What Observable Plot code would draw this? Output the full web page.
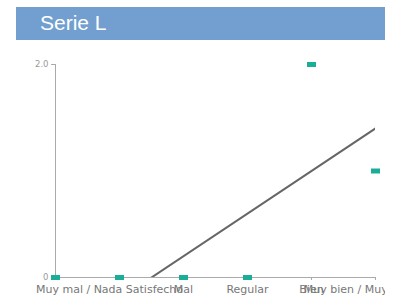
<!DOCTYPE html>
<html>
<head>
<meta charset="utf-8">
<script src="https://cdn.jsdelivr.net/npm/d3@7"></script>
<script src="https://cdn.jsdelivr.net/npm/@observablehq/plot@0.6"></script>
<style>
  html, body { margin: 0; padding: 0; background: #fff; }
  #title { margin: 7px 0 0 16px; width: 369px; height: 33px; background: #729fcf;
           color: #fff; font: 21px "Liberation Sans", Arial, sans-serif; line-height: 32px;
           padding-left: 24px; box-sizing: border-box; }
  #chart svg { display: block; overflow: hidden; }
</style>
</head>
<body>
<div id="title">Serie L</div>
<div id="chart"></div>
<script>
const categories = ["", "Muy mal / Nada Satisfecho", "Mal", "Regular", "Bien", "Muy bien / Muy satisfecho"];
const values = [0, 0, 0, 0, 2, 1];
const yTicks = [0, 2];

const data = categories.map((c, i) => ({i, c, v: values[i]}));
const trendData = data.filter(d => d.c !== "");

const marker = { draw(ctx) { ctx.rect(-4.5, -2.5, 9, 5); } };
const xIdx = d3.range(categories.length);

const chart = Plot.plot({
  width: 385,
  height: 257,
  marginLeft: 55,
  marginRight: 10,
  marginTop: 24,
  marginBottom: 20,
  style: { fontFamily: "DejaVu Sans, sans-serif", fontSize: "11px", color: "#777", background: "#fff" },
  x: { domain: [0, categories.length - 1] },
  y: { domain: [0, 2] },
  marks: [
    Plot.frame({ anchor: "left", stroke: "#aaa" }),
    Plot.frame({ anchor: "bottom", stroke: "#aaa" }),
    Plot.axisY({ ticks: yTicks, tickFormat: d => d === 0 ? "0" : d.toFixed(1), tickSize: 4, tickPadding: 3,
                 stroke: "#aaa", fill: "#999", fontSize: 8.5, label: null }),
    Plot.axisX({ ticks: xIdx, tickFormat: () => "", tickSize: 3, stroke: "#aaa", label: null }),
    Plot.axisX({ ticks: xIdx.filter(i => i >= 2), tickFormat: i => categories[i], tickSize: 0, tickPadding: 8, label: null }),
    Plot.axisX({ ticks: xIdx.filter(i => i === 1), tickFormat: i => categories[i], tickSize: 0, tickPadding: 8, dx: -10, label: null }),
    Plot.linearRegressionY(trendData, { x: "i", y: "v", ci: 0, stroke: "#666", strokeWidth: 2, clip: true }),
    Plot.dot(data, { x: "i", y: "v", symbol: marker, fill: "#1aae96", stroke: "none" })
  ]
});
document.getElementById("chart").append(chart);
</script>
</body>
</html>
